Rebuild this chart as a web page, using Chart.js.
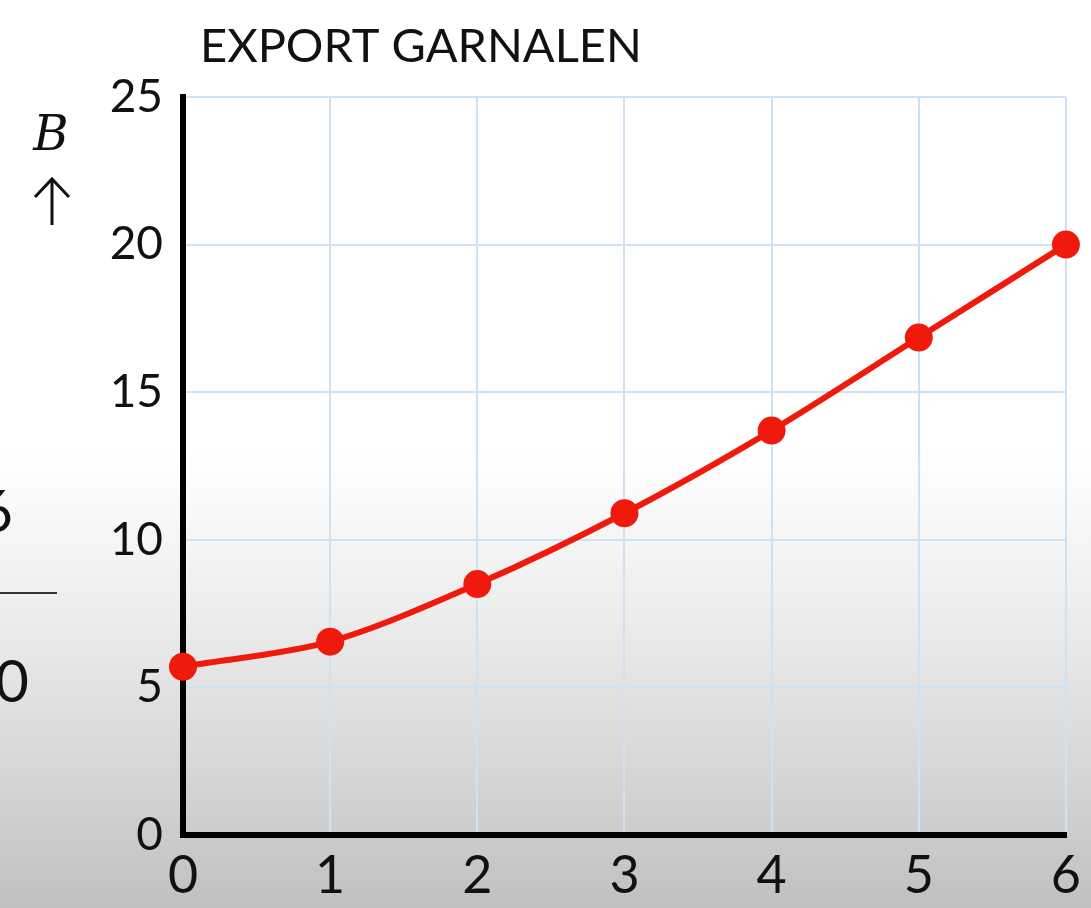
<!DOCTYPE html>
<html>
<head>
<meta charset="utf-8">
<script src="https://cdn.jsdelivr.net/npm/chart.js@4/dist/chart.umd.min.js"></script>
<style>
  html, body { margin: 0; padding: 0; }
  body {
    width: 1091px; height: 908px; overflow: hidden;
    background: linear-gradient(to bottom, #ffffff 0%, #ffffff 50%, #ececec 68%, #d6d6d6 85%, #c0c0c0 100%);
  }
  #wrap { position: relative; width: 1091px; height: 908px; }
</style>
</head>
<body>
<div id="wrap"><canvas id="chart" width="1091" height="908"></canvas></div>
<script>
const title = 'EXPORT GARNALEN';
const yLabel = 'B';
const jaren = [0, 1, 2, 3, 4, 5, 6];
const export_B = [5.7, 6.55, 8.5, 10.9, 13.7, 16.85, 20];
const yTicks = [0, 5, 10, 15, 20, 25];

const yFont = { family: 'Lato', size: 46 };
const xFont = { family: 'Lato', size: 52 };

// titel, B-pijl en de halve breuk links (uit de video)
const extraTekst = {
  id: 'extraTekst',
  afterDraw(chart) {
    const ctx = chart.ctx;
    ctx.save();
    ctx.fillStyle = '#111';
    ctx.textBaseline = 'alphabetic';
    ctx.font = '47px Lato';
    ctx.textAlign = 'left';
    ctx.fillText(title, 200, 62);

    ctx.font = 'italic 48px "DejaVu Serif"';
    ctx.textAlign = 'center';
    ctx.fillText(yLabel, 51, 150);

    // pijl omhoog
    ctx.strokeStyle = '#111';
    ctx.lineWidth = 3;
    ctx.beginPath();
    ctx.moveTo(52, 225); ctx.lineTo(52, 180);
    ctx.moveTo(35, 197); ctx.lineTo(52, 179); ctx.lineTo(69, 197);
    ctx.stroke();

    ctx.font = '58px Lato';
    ctx.textAlign = 'right';
    ctx.fillText('6', 13, 532);
    ctx.fillText('0', 29, 702);
    ctx.fillStyle = '#333';
    ctx.fillRect(0, 592, 57, 2);
    ctx.restore();
  }
};

const chart = new Chart('chart', {
  type: 'line',
  data: {
    datasets: [{
      label: title,
      data: jaren.map((x, i) => ({ x: x, y: export_B[i] })),
      borderColor: '#f01a0c',
      backgroundColor: '#f01a0c',
      borderWidth: 6,
      pointRadius: 11,
      pointHoverRadius: 11,
      tension: 0.3,
      clip: false
    }]
  },
  options: {
    responsive: false,
    animation: false,
    layout: { padding: { top: 97, right: 22, left: 0, bottom: 0 } },
    plugins: { legend: { display: false }, tooltip: { enabled: false } },
    scales: {
      x: {
        type: 'linear', min: 0, max: 6,
        ticks: { stepSize: 1, font: xFont, color: '#111', padding: 10, maxRotation: 0 },
        grid: { color: '#cde2f4', lineWidth: 2, tickLength: 0 },
        border: { color: '#000', width: 6 },
        afterFit(scale) { scale.height = 73; }
      },
      y: {
        min: 0, max: 25,
        afterBuildTicks(scale) { scale.ticks = yTicks.map(v => ({ value: v })); },
        ticks: { font: yFont, color: '#111', padding: 20 },
        grid: { color: '#cde2f4', lineWidth: 2, tickLength: 0 },
        border: { color: '#000', width: 6 },
        afterFit(scale) { scale.width = 183; }
      }
    }
  },
  plugins: [extraTekst]
});
</script>
</body>
</html>
